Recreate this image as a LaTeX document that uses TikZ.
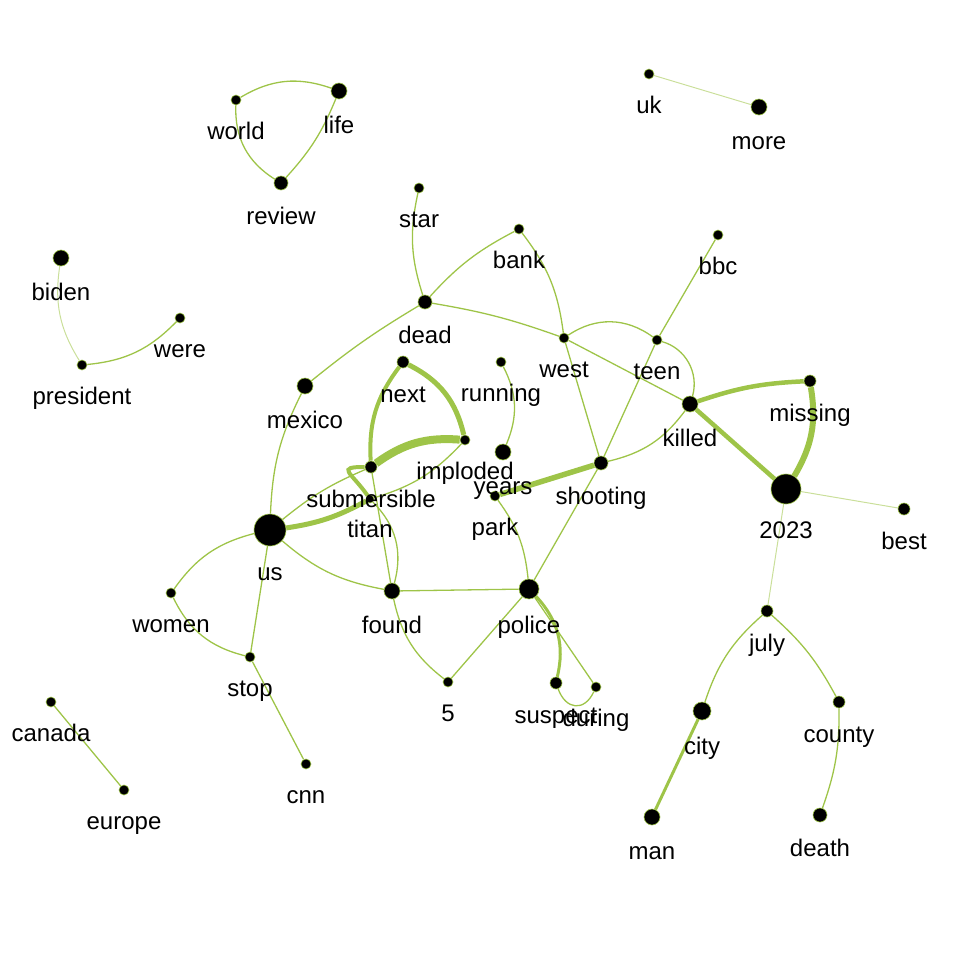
\documentclass[tikz,border=0pt]{standalone}
\usepackage{fontspec}
\setmainfont{Liberation Sans}
\definecolor{leaf}{RGB}{158,196,72}
\pgfdeclarelayer{back}
\pgfdeclarelayer{front}
\pgfsetlayers{back,main,front}
% a word: name, x, y (down), dot radius, text
\newcommand{\term}[5]{%
   \node[dot, minimum size=#4*2pt] (#1) at (#2,-#3) {};
   \begin{pgfonlayer}{front}
   \node[word] (#1-w) at (#2,-#3-#4-34) {#5};
   \end{pgfonlayer}}

\begin{document}
\begin{tikzpicture}[x=1pt,y=1pt,
   dot/.style={circle, fill=black, draw=leaf, line width=0.6pt, inner sep=0pt},
   word/.style={anchor=base, inner sep=0pt, font=\fontsize{24}{28}\selectfont},
   tie/.style={draw=leaf, line width=#1}, tie/.default=1.3pt,
   faint/.style={draw=leaf!55, line width=1pt}]
   \useasboundingbox (0,0) rectangle (972,-972);

   \term{world}{236}{100}{5}{world}
   \term{life}{339}{91}{8}{life}
   \term{review}{281}{183}{7}{review}
   \term{uk}{649}{74}{5}{uk}
   \term{more}{759}{107}{8}{more}
   \term{star}{419}{188}{5}{star}
   \term{bank}{519}{229}{5}{bank}
   \term{bbc}{718}{235}{5}{bbc}
   \term{biden}{61}{258}{8}{biden}
   \term{were}{180}{318}{5}{were}
   \term{president}{82}{365}{5}{president}
   \term{dead}{425}{302}{7}{dead}
   \term{west}{564}{338}{5}{west}
   \term{teen}{657}{340}{5}{teen}
   \term{next}{403}{362}{6}{next}
   \term{running}{501}{362}{5}{running}
   \term{mexico}{305}{386}{8}{mexico}
   \term{missing}{810}{381}{6}{missing}
   \term{killed}{690}{404}{8}{killed}
   \term{imploded}{465}{440}{5}{imploded}
   \term{park}{495}{496}{5}{park}
   \term{years}{503}{452}{8}{years}
   \term{titan}{370}{499}{4}{titan}
   \term{submersible}{371}{467}{6}{submersible}
   \term{shooting}{601}{463}{7}{shooting}
   \term{y2023}{786}{489}{15}{2023}
   \term{best}{904}{509}{6}{best}
   \term{us}{270}{530}{16}{us}
   \term{women}{171}{593}{5}{women}
   \term{found}{392}{591}{8}{found}
   \term{police}{529}{589}{10}{police}
   \term{stop}{250}{657}{5}{stop}
   \term{five}{448}{682}{5}{5}
   \term{suspect}{556}{683}{6}{suspect}
   \term{during}{596}{687}{5}{during}
   \term{july}{767}{611}{6}{july}
   \term{city}{702}{711}{9}{city}
   \term{county}{839}{702}{6}{county}
   \term{canada}{51}{702}{5}{canada}
   \term{europe}{124}{790}{5}{europe}
   \term{cnn}{306}{764}{5}{cnn}
   \term{man}{652}{817}{8}{man}
   \term{death}{820}{815}{7}{death}

   \begin{pgfonlayer}{back}
   % small groups
   \draw[tie] (world) to[bend left=25] (life);
   \draw[tie] (world) to[bend right=30] (review);
   \draw[tie] (life) to[bend left=10] (review);
   \draw[faint] (uk) -- (more);
   \draw[faint] (biden) to[bend right=20] (president);
   \draw[tie] (president) to[bend right=20] (were);
   \draw[tie] (canada) -- (europe);
   % dead, west, teen
   \draw[tie] (star) to[bend right=15] (dead);
   \draw[tie] (dead) to[bend left=10] (bank);
   \draw[tie] (dead) to[bend left=5] (west);
   \draw[tie] (bank) to[bend left=15] (west);
   \draw[tie] (west) to[bend left=35] (teen);
   \draw[tie] (west) -- (killed);
   \draw[tie] (west) -- (shooting);
   \draw[tie] (teen) -- (bbc);
   \draw[tie] (teen) -- (shooting);
   \draw[tie] (teen) to[bend left=45] (killed);
   \draw[tie=4.5pt] (killed) to[bend left=8] (missing);
   \draw[tie=4.5pt] (killed) -- (y2023);
   \draw[tie=6pt] (missing) to[bend left=20] (y2023);
   \draw[tie] (killed) to[bend left=20] (shooting);
   \draw[tie=5.5pt] (shooting) -- (park);
   \draw[tie] (shooting) -- (police);
   \draw[tie] (running) to[bend left=25] (years);
   \draw[tie] (park) to[bend left=15] (police);
   % submersible
   \draw[tie=5pt] (next) to[bend left=25] (imploded);
   \draw[tie=4pt] (next) to[bend right=20] (submersible);
   \draw[tie=8pt] (submersible) to[bend left=20] (imploded);
   \draw[tie=4pt] (submersible) to[out=180,in=125,looseness=2.6] (titan);
   \draw[tie=5pt] (us) to[bend right=10] (titan);
   \draw[tie] (us) to[bend left=8] (submersible);
   \draw[tie] (submersible) -- (found);
   \draw[tie] (titan) to[bend left=30] (found);
   \draw[tie] (titan) to[bend right=15] (imploded);
   % us
   \draw[tie] (us) to[bend right=15] (found);
   \draw[tie] (us) to[bend left=12] (mexico);
   \draw[tie] (mexico) to[bend left=4] (dead);
   \draw[tie] (us) to[bend right=20] (women);
   \draw[tie] (us) -- (stop);
   \draw[tie] (women) to[bend right=25] (stop);
   \draw[tie] (stop) -- (cnn);
   % police
   \draw[tie] (found) -- (police);
   \draw[tie] (found) to[bend right=20] (five);
   \draw[tie] (police) -- (five);
   \draw[tie=3pt] (police) to[bend left=28] (suspect);
   \draw[tie] (police) -- (during);
   \draw[tie] (suspect) to[out=-70,in=-115,looseness=1.6] (during);
   % 2023
   \draw[faint] (y2023) -- (best);
   \draw[faint] (y2023) -- (july);
   \draw[tie] (july) to[bend right=15] (city);
   \draw[tie] (july) to[bend left=10] (county);
   \draw[tie=3pt] (city) -- (man);
   \draw[tie] (county) to[bend left=10] (death);
   \end{pgfonlayer}
\end{tikzpicture}
\end{document}
